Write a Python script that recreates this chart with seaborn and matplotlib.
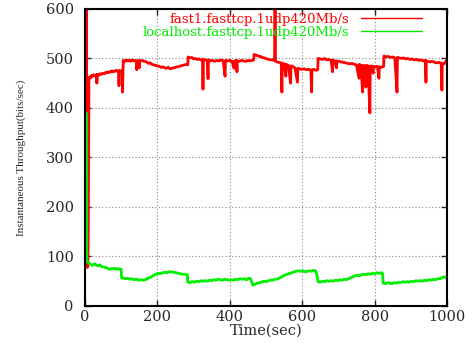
import matplotlib
matplotlib.use("Agg")
import matplotlib.pyplot as plt
import seaborn as sns
import pandas as pd
from matplotlib.lines import Line2D

red_label = "fast1.fasttcp.1udp420Mb/s"
green_label = "localhost.fasttcp.1udp420Mb/s"

red_t = [2, 3, 4, 5, 6, 8, 9, 10, 11, 13, 16, 19, 22, 25, 28, 31, 33, 34, 38, 42, 46, 50, 54, 58, 62, 66, 70, 74, 78, 82, 86, 90, 93, 94, 95, 99, 103, 104, 105,
         106, 110, 114, 118, 122, 126, 130, 134, 138, 142, 143, 144, 148, 150, 151, 155, 160, 165, 170, 175, 180, 185, 190, 195, 200, 205, 210, 215, 220, 225,
         230, 235, 240, 245, 250, 255, 260, 265, 270, 275, 280, 284, 285, 290, 295, 300, 305, 310, 315, 320, 325, 326, 327, 332, 338, 340, 341, 346, 352, 358,
         364, 370, 376, 382, 387, 388, 394, 400, 406, 412, 413, 418, 420, 421, 426, 432, 438, 444, 450, 456, 462, 466, 467, 472, 478, 484, 490, 496, 502, 508,
         514, 519, 522, 524, 525, 526, 530, 536, 542, 544, 545, 550, 555, 556, 562, 568, 569, 575, 580, 587, 588, 594, 600, 606, 612, 618, 624, 626, 627, 632,
         638, 643, 644, 650, 656, 662, 668, 674, 680, 684, 685, 690, 695, 696, 702, 708, 714, 720, 726, 732, 738, 744, 750, 757, 758, 762, 767, 768, 772, 776,
         777, 782, 787, 788, 792, 796, 797, 802, 808, 812, 813, 818, 822, 825, 826, 832, 838, 844, 850, 856, 862, 863, 868, 874, 880, 886, 892, 898, 904, 910,
         916, 922, 928, 934, 940, 942, 943, 948, 954, 960, 966, 972, 978, 984, 986, 987, 992, 996, 1000]
red_v = [120, 330, 650, 330, 78, 80, 140, 300, 460, 463, 461, 466, 464, 467, 465, 467, 450, 468, 466, 469, 468, 470, 469, 472, 471, 473, 472, 475, 473, 474, 476, 474, 475, 445, 475, 474, 476, 432, 475,
         496, 494, 497, 495, 496, 494, 497, 495, 496, 494, 477, 495, 496, 481, 494, 496, 495, 494, 493, 490, 491, 488, 487, 486, 485, 484, 482, 483, 481, 480,
         482, 479, 480, 481, 482, 483, 484, 485, 486, 487, 488, 487, 503, 501, 502, 499, 500, 498, 499, 497, 498, 438, 498, 497, 496, 459, 497, 495, 496, 494,
         496, 495, 497, 495, 464, 496, 495, 496, 494, 480, 495, 496, 473, 495, 494, 496, 495, 494, 496, 495, 496, 497, 508, 507, 505, 504, 502, 501, 499, 498,
         497, 497, 496, 497, 650, 495, 493, 492, 491, 432, 490, 489, 464, 488, 486, 450, 485, 483, 481, 452, 480, 479, 478, 479, 477, 478, 476, 432, 477, 478,
         476, 477, 500, 499, 498, 500, 497, 498, 496, 473, 497, 495, 481, 495, 494, 493, 492, 491, 490, 489, 490, 488, 487, 460, 488, 486, 432, 486, 485, 442,
         486, 485, 390, 484, 485, 470, 484, 483, 484, 460, 483, 482, 483, 484, 505, 503, 504, 502, 503, 501, 432, 502, 501, 500, 501, 499, 500, 498, 499, 497,
         498, 496, 497, 495, 496, 452, 495, 494, 493, 494, 492, 491, 492, 490, 436, 490, 489, 493, 497]

green_t = [0, 1, 2, 3, 4, 5, 8, 12, 16, 20, 24, 28, 32, 36, 41, 45, 50, 55, 60, 65, 69, 74, 78, 82, 86, 90, 95, 100, 101, 106, 112, 118, 124, 130, 136, 142,
           148, 154, 160, 166, 172, 178, 184, 190, 196, 202, 208, 214, 220, 226, 232, 240, 246, 252, 258, 264, 270, 276, 283, 284, 290, 296, 302, 308, 314,
           320, 326, 332, 338, 344, 350, 356, 362, 368, 374, 380, 386, 392, 398, 404, 410, 416, 422, 428, 434, 440, 446, 452, 457, 459, 464, 470, 476, 482,
           488, 494, 500, 506, 512, 518, 524, 530, 536, 542, 548, 554, 560, 566, 572, 578, 584, 590, 596, 602, 608, 614, 620, 626, 632, 637, 641, 644, 650,
           656, 662, 668, 674, 680, 686, 692, 698, 704, 710, 716, 722, 728, 734, 740, 746, 752, 758, 764, 770, 776, 782, 788, 794, 800, 806, 812, 818, 822,
           824, 830, 836, 842, 848, 854, 860, 866, 872, 878, 884, 890, 896, 902, 908, 914, 920, 926, 932, 938, 944, 950, 956, 962, 968, 974, 980, 986, 992,
           996, 1000]
green_v = [120, 125, 140, 390, 250, 92, 88, 86, 84, 82, 84, 85, 82, 81, 83, 80, 79, 78, 77, 75, 74, 76, 75, 76, 74, 75, 75, 74, 57, 56, 55, 56, 54, 55, 53, 54,
           52, 53, 52, 53, 55, 57, 59, 62, 64, 66, 65, 67, 68, 67, 69, 69, 68, 67, 66, 65, 64, 64, 63, 48, 47, 49, 48, 50, 49,
           51, 50, 51, 50, 52, 51, 53, 52, 54, 53, 52, 54, 53, 52, 53, 52, 54, 53, 55, 54, 55, 53, 56, 55, 52, 42, 44, 46, 47,
           48, 50, 49, 51, 52, 52, 54, 54, 56, 58, 61, 63, 64, 66, 67, 69, 70, 71, 70, 71, 69, 70, 71, 70, 72, 71, 62, 49, 48,
           50, 49, 51, 50, 51, 50, 52, 51, 53, 52, 54, 53, 55, 57, 59, 61, 62, 61, 63, 64, 63, 65, 64, 66, 65, 67, 66, 67, 66,
           46, 45, 47, 46, 45, 47, 46, 48, 47, 49, 48, 49, 48, 50, 49, 51, 50, 51, 50, 52, 51, 53, 52, 54, 53, 55, 55, 57, 59,
           57, 57]

df = pd.concat([
    pd.DataFrame({"t": red_t, "v": red_v, "series": red_label}),
    pd.DataFrame({"t": green_t, "v": green_v, "series": green_label}),
], ignore_index=True)

sns.set_style("white")
plt.rcParams["font.family"] = ["DejaVu Serif"]

fig = plt.figure(figsize=(4.72, 3.43), dpi=100)
ax = fig.add_axes([0.180, 0.108, 0.767, 0.866])

sns.lineplot(data=df, x="t", y="v", hue="series",
             palette={red_label: "#ff0000", green_label: "#00ee00"},
             estimator=None, sort=False, linewidth=2.0, ax=ax, legend=False)

ax.set_xlim(0, 1000)
ax.set_ylim(0, 600)
ax.set_xticks([0, 200, 400, 600, 800, 1000])
ax.set_yticks([0, 100, 200, 300, 400, 500, 600])
ax.grid(True, color="#888888", linestyle=(0, (1, 2)), linewidth=0.8)
ax.tick_params(direction="in", length=4, width=1, labelsize=10.5,
               top=True, right=True, bottom=True, left=True)
ax.tick_params(axis="x", pad=3)
ax.tick_params(axis="y", pad=8)
for s in ax.spines.values():
    s.set_linewidth(1.5)
    s.set_color("black")

ax.set_xlabel("Time(sec)", fontsize=10.5, labelpad=0)
ax.set_ylabel("Instantaneous Throughput(bits/sec)", fontsize=8,
              family="Liberation Serif", labelpad=14)

handles = [Line2D([], [], color="#ff0000", lw=1), Line2D([], [], color="#00ee00", lw=1)]
ax.legend(handles, [red_label, green_label], loc="upper right", frameon=False,
          markerfirst=False, labelcolor=["#ff0000", "#00ee00"],
          prop={"family": "DejaVu Serif", "size": 9.5}, handlelength=4.6,
          handletextpad=0.9, labelspacing=0.0, borderaxespad=0.0,
          bbox_to_anchor=(0.945, 1.005))

fig.savefig("out.png", dpi=100)
